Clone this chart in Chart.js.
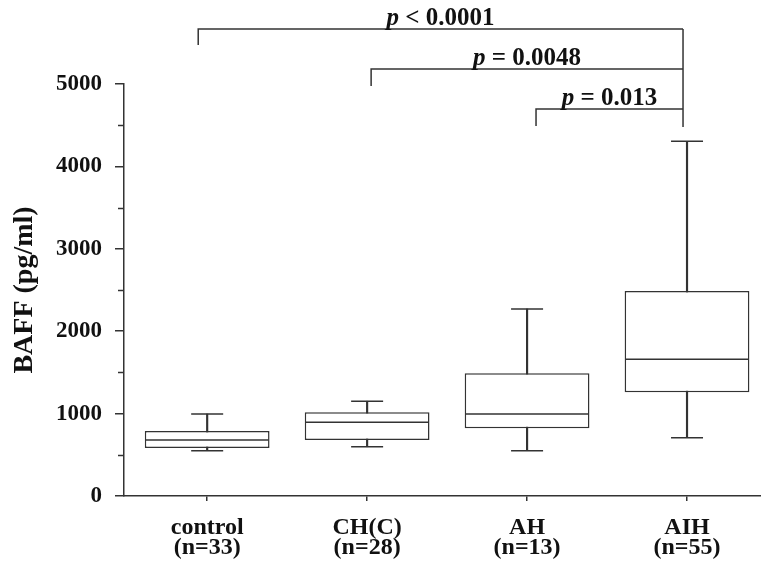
<!DOCTYPE html>
<html>
<head>
<meta charset="utf-8">
<script src="https://cdn.jsdelivr.net/npm/chart.js@4/dist/chart.umd.min.js"></script>
<style>
  html, body { margin: 0; padding: 0; background: #ffffff; }
  canvas { display: block; }
</style>
</head>
<body>
<canvas id="chart" width="761" height="570"></canvas>
<script>
// Serum BAFF by patient group (box = quartiles, line = median, whiskers = range)
const categories  = ['control', 'CH(C)', 'AH', 'AIH'];
const groupSizes  = [33, 28, 13, 55];
const whiskerLow  = [550, 598, 550, 708];
const quartile1   = [583, 680, 821, 1258];
const medians     = [680, 894, 995, 1659];
const quartile3   = [789, 1016, 1489, 2488];
const whiskerHigh = [995, 1150, 2270, 4305];

const yMajorStep = 1000;
const yMinorTicks = [500, 1500, 2500, 3500, 4500];

// pairwise comparisons against AIH
const comparisons = [[0, 3], [1, 3], [2, 3]];
const pOperators  = ['<', '=', '='];
const pValues     = ['0.0001', '0.0048', '0.013'];

const INK = '#333333';
const TEXT = '#111111';
const SERIF = "'Liberation Serif', 'Times New Roman', serif";

const idx = categories.map((_, i) => i);

const annotate = {
  id: 'annotate',
  afterDraw(chart) {
    const { ctx, chartArea, scales: { x, y } } = chart;
    ctx.save();
    ctx.strokeStyle = INK;
    ctx.lineWidth = 1.5;

    // short minor ticks on the value axis
    yMinorTicks.forEach(v => {
      const py = Math.round(y.getPixelForValue(v)) + 0.5;
      ctx.beginPath();
      ctx.moveTo(chartArea.left - 6, py);
      ctx.lineTo(chartArea.left, py);
      ctx.stroke();
    });

    // significance brackets above the plot
    const leftNudge = [-0.056, 0.025, 0.056];
    const rightNudge = -0.025;
    const levelStart = chartArea.top - 55;
    const levelGap = 40;
    const drop = 16;
    const xr = x.getPixelForValue(comparisons[0][1] + rightNudge);
    comparisons.forEach(([a, b], i) => {
      const xl = x.getPixelForValue(a + leftNudge[i]);
      const ly = levelStart + i * levelGap;
      ctx.beginPath();
      ctx.moveTo(xl, ly + drop + (i ? 1 : 0));
      ctx.lineTo(xl, ly);
      ctx.lineTo(xr, ly);
      ctx.stroke();

      const italic = 'italic bold 25px ' + SERIF;
      const bold = 'bold 25px ' + SERIF;
      const rest = ' ' + pOperators[i] + ' ' + pValues[i];
      ctx.font = italic;
      const wP = ctx.measureText('p').width;
      ctx.font = bold;
      const wR = ctx.measureText(rest).width;
      const start = (xl + xr) / 2 - (wP + wR) / 2;
      ctx.fillStyle = TEXT;
      ctx.textBaseline = 'alphabetic';
      ctx.textAlign = 'left';
      ctx.font = italic;
      ctx.fillText('p', start, ly - 4);
      ctx.font = bold;
      ctx.fillText(rest, start + wP, ly - 4);
    });
    const lastY = levelStart + (comparisons.length - 1) * levelGap + drop + 2;
    ctx.beginPath();
    ctx.moveTo(xr, levelStart);
    ctx.lineTo(xr, lastY);
    ctx.stroke();
    ctx.restore();
  }
};

new Chart(document.getElementById('chart'), {
  type: 'bar',
  data: {
    datasets: [
      {
        // interquartile boxes
        type: 'bar',
        data: idx.map(i => ({ x: i, y: [quartile1[i], quartile3[i]] })),
        backgroundColor: '#ffffff',
        borderColor: INK,
        borderWidth: 1.5,
        borderSkipped: false,
        grouped: false,
        categoryPercentage: 1,
        barPercentage: 0.78,
        order: 2
      },
      {
        // whisker stems (min to max), partly hidden behind the boxes
        type: 'bar',
        data: idx.map(i => ({ x: i, y: [whiskerLow[i], whiskerHigh[i]] })),
        backgroundColor: INK,
        borderWidth: 0,
        grouped: false,
        barThickness: 1.5,
        order: 3
      },
      {
        // medians
        type: 'scatter',
        data: idx.map(i => ({ x: i, y: medians[i] })),
        pointStyle: 'line',
        pointRadius: 61.5,
        pointHoverRadius: 61.5,
        borderColor: INK,
        borderWidth: 1.5,
        order: 1
      },
      {
        // whisker caps
        type: 'scatter',
        data: idx.flatMap(i => [{ x: i, y: whiskerLow[i] }, { x: i, y: whiskerHigh[i] }]),
        pointStyle: 'line',
        pointRadius: 16,
        pointHoverRadius: 16,
        borderColor: INK,
        borderWidth: 1.5,
        order: 1
      }
    ]
  },
  options: {
    responsive: false,
    animation: false,
    events: [],
    layout: { autoPadding: false, padding: { top: 84, right: 0, bottom: 0, left: 0 } },
    plugins: {
      legend: { display: false },
      tooltip: { enabled: false }
    },
    scales: {
      x: {
        type: 'linear',
        offset: false,
        min: -0.52,
        max: 3.4625,
        afterBuildTicks: scale => { scale.ticks = idx.map(i => ({ value: i })); },
        afterFit: scale => { scale.height = 74; },
        grid: { offset: false, drawOnChartArea: false, drawTicks: true, tickLength: 5, color: INK, lineWidth: 1.5 },
        border: { display: true, color: INK, width: 1.5 },
        ticks: {
          autoSkip: false,
          maxRotation: 0,
          padding: 17,
          color: TEXT,
          font: { family: SERIF, size: 24, weight: 'bold', lineHeight: 0.83 },
          callback: v => [categories[v], '(n=' + groupSizes[v] + ')']
        }
      },
      y: {
        min: 0,
        max: 5000,
        afterFit: scale => { scale.width = 124; },
        grid: { drawOnChartArea: false, drawTicks: true, tickLength: 9, color: INK, lineWidth: 1.5 },
        border: { display: true, color: INK, width: 1.5 },
        ticks: {
          stepSize: yMajorStep,
          padding: 13,
          color: TEXT,
          font: { family: SERIF, size: 23, weight: 'bold' },
          callback: v => String(v)
        },
        title: {
          display: true,
          text: 'BAFF (pg/ml)',
          color: TEXT,
          padding: { top: 8, bottom: 0 },
          font: { family: SERIF, size: 28, weight: 'bold', lineHeight: 1.2 }
        }
      }
    }
  },
  plugins: [annotate]
});
</script>
</body>
</html>
